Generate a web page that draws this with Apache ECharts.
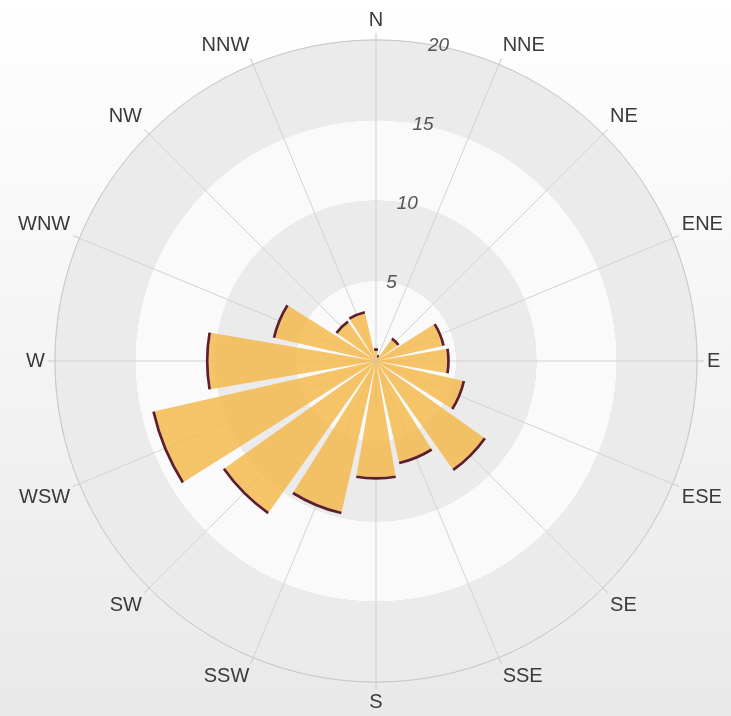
<!DOCTYPE html>
<html>
<head>
<meta charset="utf-8">
<style>
  html, body { margin: 0; padding: 0; }
  #chart-container { width: 731px; height: 716px; }
</style>
<script src="https://cdn.jsdelivr.net/npm/echarts@6/dist/echarts.min.js"></script>
</head>
<body>
<div id="chart-container"></div>
<script>
var dom = document.getElementById('chart-container');
var myChart = echarts.init(dom, null, { renderer: 'canvas' });

// compass directions, clockwise from north
var directions = ['N', 'NNE', 'NE', 'ENE', 'E', 'ESE', 'SE', 'SSE',
                  'S', 'SSW', 'SW', 'WSW', 'W', 'WNW', 'NW', 'NNW'];
// frequency per direction
var values = [0.8, 0.4, 1.8, 4.4, 4.6, 5.7, 8.4, 6.6,
              7.4, 9.8, 11.7, 14.3, 10.6, 6.6, 3.1, 3.2];
var radiusTicks = [0, 5, 10, 15, 20];

// dark rim drawn at the end of every bar
var cap = 0.17;

// the radius labels sit half a sector clockwise of north,
// so the category list starts at NNE and N comes last
var axisDirs = directions.slice(1).concat(directions.slice(0, 1));
var axisVals = values.slice(1).concat(values.slice(0, 1));

var option = {
  backgroundColor: new echarts.graphic.LinearGradient(0, 0, 0, 1, [
    { offset: 0, color: '#ffffff' },
    { offset: 1, color: '#e9e9e9' }
  ]),
  polar: {
    center: [376, 361],
    radius: 321
  },
  angleAxis: {
    type: 'category',
    data: axisDirs,
    startAngle: 78.75,
    clockwise: true,
    boundaryGap: true,
    axisLine: { lineStyle: { color: '#c9c9c9', width: 1 } },
    axisTick: { show: true, alignWithLabel: true, length: 7, lineStyle: { color: '#c9c9c9' } },
    axisLabel: {
      margin: 10,
      color: '#3a3a3a',
      fontSize: 20,
      fontFamily: 'Liberation Sans, Arial, sans-serif'
    },
    splitLine: { show: true, lineStyle: { color: '#d3d3d3', width: 1 } },
    z: 1
  },
  radiusAxis: {
    min: radiusTicks[0],
    max: radiusTicks[radiusTicks.length - 1],
    interval: 5,
    axisLine: { show: false },
    axisTick: { show: false },
    axisLabel: {
      showMinLabel: false,
      margin: 0,
      align: 'center',
      verticalAlign: 'middle',
      color: '#555',
      fontSize: 19,
      fontStyle: 'italic',
      fontFamily: 'Liberation Sans, Arial, sans-serif'
    },
    splitLine: { show: true, lineStyle: { color: '#d0d0d0', width: 1 } },
    splitArea: { show: true, areaStyle: { color: ['#fafafa', '#ebebeb'] } },
    z: 1
  },
  series: [
    {
      type: 'bar',
      coordinateSystem: 'polar',
      stack: 'wind',
      barCategoryGap: '14%',
      data: axisVals.map(function (v) { return Math.max(v - cap, 0); }),
      itemStyle: { color: '#f3b94f', opacity: 0.86 },
      z: 3
    },
    {
      type: 'bar',
      coordinateSystem: 'polar',
      stack: 'wind',
      barCategoryGap: '14%',
      data: axisVals.map(function (v) { return Math.min(cap, v); }),
      itemStyle: { color: '#5e1f2c' },
      z: 3
    }
  ]
};

myChart.setOption(option);
window.addEventListener('resize', myChart.resize);
</script>
</body>
</html>
